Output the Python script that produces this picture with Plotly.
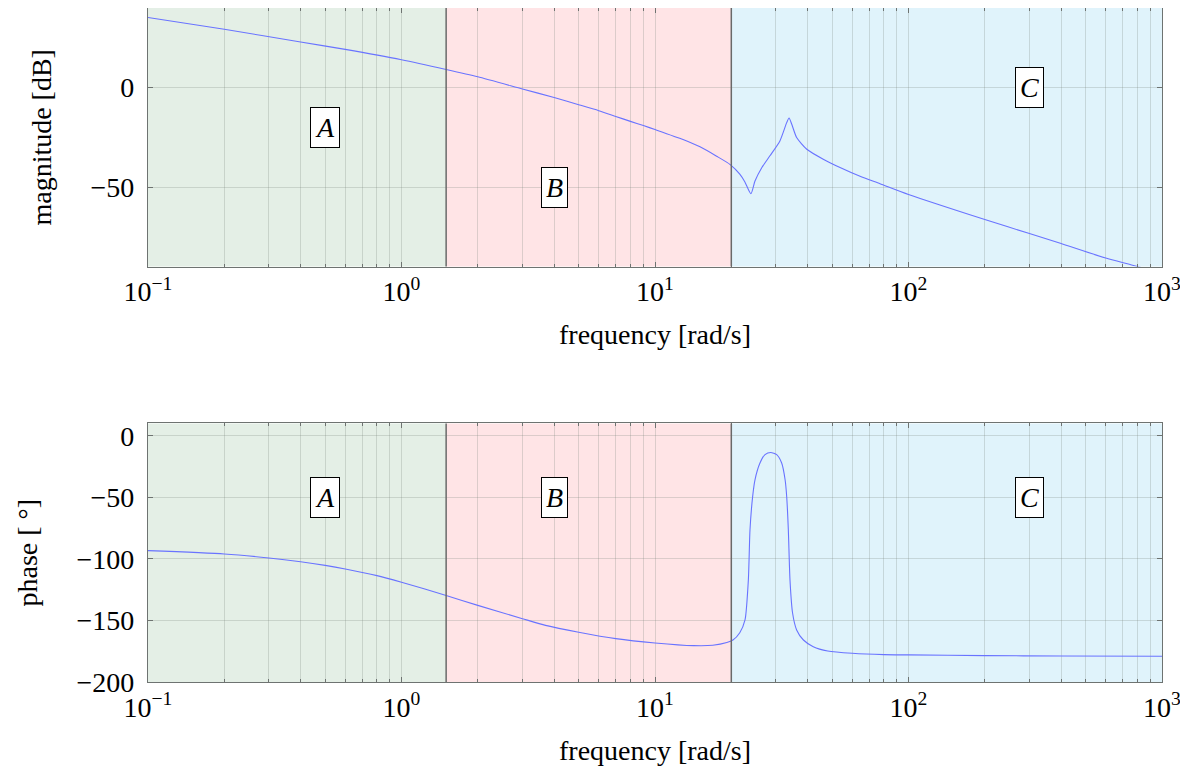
import math
import plotly.graph_objects as go
from plotly.subplots import make_subplots

# ---- data ----
mag_freq = [0.1, 0.2, 0.4, 0.6, 1.0, 1.5, 2, 3, 4, 5, 6, 7, 8, 9, 10, 12.9, 15.05, 17.5,
            19.8, 21.6, 22.6, 23.9, 24.8, 26.4, 28.4, 31.1, 33.1, 33.8, 34.6, 36.2, 39.7,
            46.1, 53.7, 64.4, 77.2, 100, 200, 300, 400, 600, 800, 1000]
mag_db = [35.2, 29.3, 22.9, 19.2, 14.0, 9.1, 5.4, -0.7, -5.0, -8.6, -11.6, -14.5, -17.0,
          -19.1, -21.1, -26.1, -29.8, -34.5, -38.7, -43.5, -47.3, -53.4, -47.0, -40.2,
          -34.3, -26.8, -17.5, -15.3, -18.3, -25.1, -31.0, -36.0, -40.2, -44.6, -48.3,
          -53.7, -66.3, -73.4, -78.4, -85.7, -89.9, -93.8]

ph_freq = [0.1, 0.2, 0.3, 0.4, 0.5, 0.6, 0.8, 1.0, 1.5, 2, 3, 3.7, 5, 7, 10, 14.2,
           16.9, 19.2, 20.3, 21.6, 22.65, 23.35, 23.7, 24.28, 24.8, 25.95, 27.16, 28.6,
           30.2, 31.6, 32.6, 33.07, 33.57, 34.08, 34.9, 36.2, 38.5, 42.1, 48, 60, 80, 100,
           200, 400, 1000]
ph_deg = [-93.3, -96.0, -99.3, -102.4, -105.3, -108.2, -113.6, -119.0, -129.7,
          -137.8, -148.6, -154.0, -159.6, -164.8, -168.3, -170.5, -170.2, -168.0, -165.9,
          -160.0, -149.6, -117.1, -76.4, -49.3, -35.8, -22.2, -15.4, -13.6, -15.4, -22.2,
          -35.8, -49.3, -76.4, -117.1, -144.2, -157.7, -165.9, -171.3, -174.8, -176.7,
          -177.8, -178.0, -178.6, -178.9, -179.1]

regions = ["A", "B", "C"]
region_start = [0.1, 1.5, 20]
region_end = [1.5, 20, 1000]
region_colors = ["#e4efe6", "#ffe4e6", "#e0f3fb"]
label_freq = [0.5, 4.0, 300]
label_mag = [-20, -50, 0]
label_phase = [-50, -50, -50]

x_ticks = [0.1, 1, 10, 100, 1000]
x_ticktext = ["10<sup>−1</sup>", "10<sup>0</sup>", "10<sup>1</sup>", "10<sup>2</sup>", "10<sup>3</sup>"]
mag_ticks = [-50, 0]
mag_ticktext = ["−50", "0"]
ph_ticks = [-200, -150, -100, -50, 0]
ph_ticktext = ["−200", "−150", "−100", "−50", "0"]

FONT = "Liberation Serif"
FS = 28
GRID = "rgba(120,130,125,0.26)"
FRAME = "rgb(110,115,113)"
LINE = "rgb(105,115,255)"

fig = make_subplots(rows=2, cols=1, vertical_spacing=0.2326)
fig.update_layout(
    width=1180, height=763,
    margin=dict(l=140, r=26, t=0, b=89, autoexpand=False),
    paper_bgcolor="white", plot_bgcolor="white",
    showlegend=False,
    font=dict(family=FONT, size=FS, color="black"),
)
fig.update_yaxes(domain=[0.6163, 1.0], row=1, col=1)
fig.update_yaxes(domain=[0.0, 0.3837], row=2, col=1)

fig.add_trace(go.Scatter(x=mag_freq, y=mag_db, mode="lines",
                         line=dict(color=LINE, width=1.1, shape="spline", smoothing=0.6)),
              row=1, col=1)
fig.add_trace(go.Scatter(x=ph_freq, y=ph_deg, mode="lines",
                         line=dict(color=LINE, width=1.1, shape="spline", smoothing=0.6)),
              row=2, col=1)

minor_vals = [k * 10 ** e for e in range(-1, 3) for k in range(2, 10)]

for r in (1, 2):
    fig.update_xaxes(
        type="log", range=[-1, 3], tickvals=x_ticks, ticktext=x_ticktext,
        showgrid=True, gridcolor=GRID, gridwidth=1,
        ticks="inside", ticklen=5, tickcolor=FRAME,
        minor=dict(tickvals=minor_vals, showgrid=True, gridcolor=GRID, gridwidth=1,
                   ticks="inside", ticklen=3, tickcolor=FRAME),
        showline=True, linecolor=FRAME, linewidth=1.2, mirror="allticks",
        zeroline=False, tickfont=dict(size=FS, family=FONT), automargin=False,
        title=dict(text="frequency [rad/s]", font=dict(size=FS, family=FONT), standoff=18),
        row=r, col=1)

common_y = dict(showgrid=True, gridcolor=GRID, ticks="inside", ticklen=5, tickcolor=FRAME,
                showline=True, linecolor=FRAME, linewidth=1.2, mirror="allticks",
                zeroline=False, tickfont=dict(size=FS, family=FONT), automargin=False,
                ticklabelstandoff=7)
fig.update_yaxes(range=[-90, 40], tickvals=mag_ticks, ticktext=mag_ticktext,
                 title=dict(text="magnitude [dB]", font=dict(size=FS, family=FONT), standoff=30),
                 row=1, col=1, **common_y)
fig.update_yaxes(range=[-200, 10], tickvals=ph_ticks, ticktext=ph_ticktext,
                 title=dict(text="phase [ °]", font=dict(size=FS, family=FONT), standoff=30),
                 row=2, col=1, **common_y)

for r, (xr, yr) in enumerate([("x", "y"), ("x2", "y2")], start=1):
    for i in range(3):
        fig.add_shape(type="rect", xref=xr, yref=f"{yr} domain",
                      x0=region_start[i], x1=region_end[i], y0=0, y1=1,
                      fillcolor=region_colors[i], line=dict(width=0), layer="below")
    for b in region_start[1:]:
        fig.add_shape(type="line", xref=xr, yref=f"{yr} domain", x0=b, x1=b, y0=0, y1=1,
                      line=dict(color="rgb(105,105,105)", width=1.5), layer="above")
    ys = label_mag if r == 1 else label_phase
    for i in range(3):
        fig.add_annotation(x=math.log10(label_freq[i]), y=ys[i], xref=xr, yref=yr,
                           text=f"<i>{regions[i]}</i>", showarrow=False,
                           font=dict(size=FS, family=FONT, color="black"),
                           bgcolor="white", bordercolor="black", borderwidth=1, borderpad=4)

fig.write_html("out.html")
